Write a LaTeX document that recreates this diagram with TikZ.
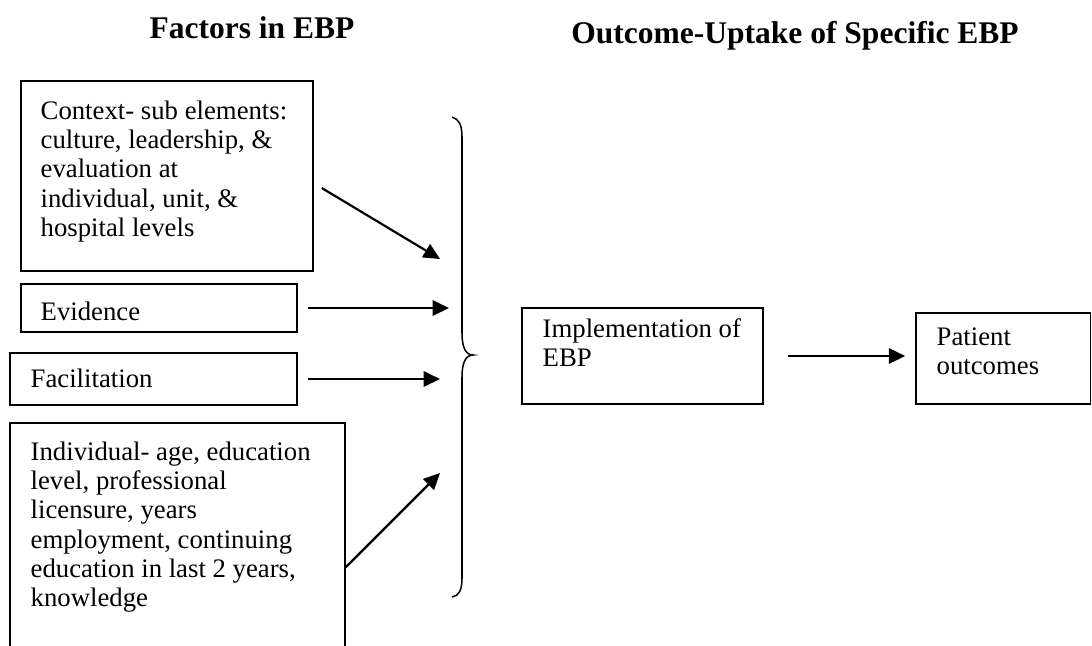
\documentclass[tikz,border=0pt]{standalone}
\usepackage{fontspec}
\setmainfont{Liberation Serif}
\usetikzlibrary{arrows.meta,fit}
\begin{document}
\begin{tikzpicture}[x=0.46pt,y=-0.46pt,
  box/.style={draw, line width=0.7pt, inner sep=0pt},
  txt/.style={anchor=north west, inner sep=0pt, align=left, font=\fontsize{12.3}{13.5}\selectfont},
  ttl/.style={anchor=north, inner sep=0pt, font=\fontsize{14.5}{17}\selectfont\bfseries},
  arr/.style={line width=1pt, -{Triangle[length=7.5pt,width=7pt]}},
  brc/.style={line width=0.7pt}]
\useasboundingbox (0,0) rectangle (1092,645);
\clip (0,0) rectangle (1092,645);
% titles
\node[ttl] (t-fac) at (252,16) {Factors in EBP};
\node[ttl] (t-out) at (795,21) {Outcome-Uptake of Specific EBP};
% boxes
\node[box, fit={(21,81) (313,271)}] (ctx) {};
\node[box, fit={(21,284) (297,332)}] (ev) {};
\node[box, fit={(10,353) (297,405)}] (fac) {};
\node[box, fit={(10,423) (345,720)}] (ind) {};
\node[box, fit={(522,308) (763,404)}] (impl) {};
\node[box, fit={(916,313) (1090.5,404)}] (pat) {};
% texts
\node[txt] (ctx-t) at ([shift={(20,20)}]ctx.north west) {Context- sub elements:\\culture, leadership, \&\\evaluation at\\individual, unit, \&\\hospital levels};
\node[txt] (ev-t) at ([shift={(20,18)}]ev.north west) {Evidence};
\node[txt] (fac-t) at ([shift={(21,16)}]fac.north west) {Facilitation};
\node[txt] (ind-t) at ([shift={(21,19)}]ind.north west) {Individual- age, education\\level, professional\\licensure, years\\employment, continuing\\education in last 2 years,\\knowledge};
\node[txt] (impl-t) at ([shift={(21,11)}]impl.north west) {Implementation of\\EBP};
\node[txt] (pat-t) at ([shift={(21,15)}]pat.north west) {Patient\\outcomes};
% brace
\coordinate (b-top) at (452,117);
\coordinate (b-tip) at (473,355);
\coordinate (b-bot) at (452,597);
\draw[brc] (b-top) .. controls (459,119) and (462,125) .. (462,137)
  -- (462,333) .. controls (462,348) and (466,355) .. (b-tip)
  .. controls (466,355) and (462,362) .. (462,377)
  -- (462,578) .. controls (462,590) and (459,596) .. (b-bot);
% arrow targets
\coordinate (t1) at (440,259);
\coordinate (t2) at (449,308);
\coordinate (t3) at (440,379);
\coordinate (t4) at (440,473);
% arrows
\draw[arr] ([shift={(8,12)}]ctx.east) -- (t1);
\draw[arr] ([shift={(10,0)}]ev.east) -- (t2);
\draw[arr] ([shift={(10,0)}]fac.east) -- (t3);
\draw[arr] ([shift={(0,145)}]ind.north east) -- (t4);
\draw[arr] ([shift={(24,0)}]impl.east) -- ([shift={(-10,0)}]pat.west |- impl.east);
\end{tikzpicture}
\end{document}
